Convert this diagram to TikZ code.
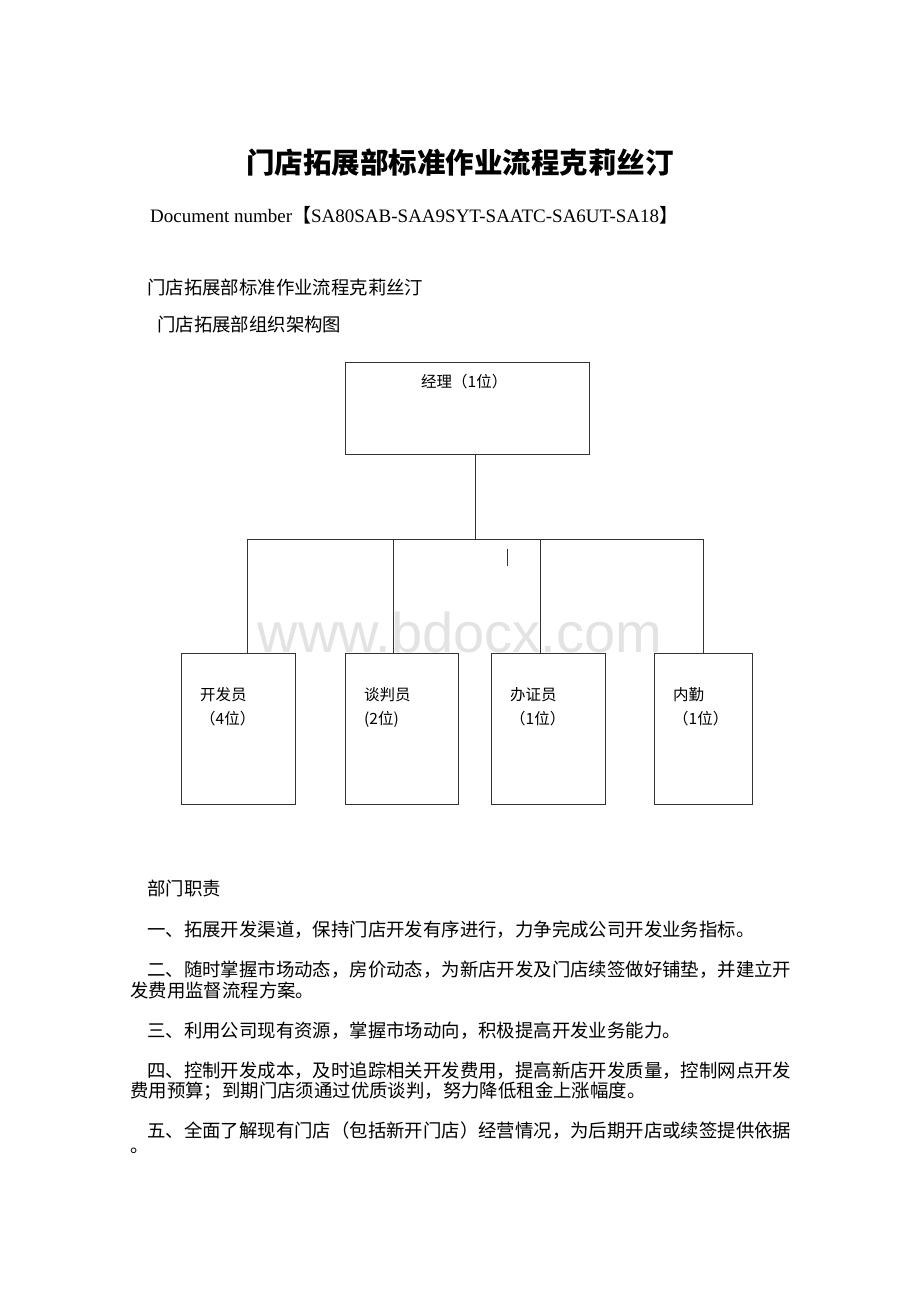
\documentclass[tikz,border=0pt]{standalone}
\usepackage{fontspec}
\setmainfont{Liberation Serif}
\newfontfamily\cjk{Noto Sans CJK SC}
\newfontfamily\wmfont{Liberation Sans}
\usepackage{tikz}

\begin{document}
\begin{tikzpicture}[x=1pt,y=-1pt,
  box/.style={draw=black!80,line width=0.8pt,inner sep=0pt},
  body/.style={anchor=west,inner sep=0pt,font=\cjk\fontsize{18.4}{22}\selectfont},
  lbl/.style={anchor=north west,inner sep=0pt,align=left,font=\cjk\fontsize{15.5}{24}\selectfont},
  wire/.style={draw=black!80,line width=0.8pt}]
  \fill[white] (0,0) rectangle (920,1302);
  \useasboundingbox (0,0) rectangle (920,1302);
  % heading
  \node (title) at (460,163) {\cjk\bfseries\fontsize{28.5}{34}\selectfont 门店拓展部标准作业流程克莉丝汀};
  \node (docno) at (150,215) [anchor=west,inner sep=0pt] {\fontsize{19}{23}\selectfont Document number{\cjk 【}SA80SAB-SAA9SYT-SAATC-SA6UT-SA18{\cjk 】}};
  \node (sub1) at (147,287) [body] {门店拓展部标准作业流程克莉丝汀};
  \node (sub2) at (157,324) [body] {门店拓展部组织架构图};
  % watermark
  \node (wm) at (460,652) [anchor=base,text=black!11] {\wmfont\fontsize{56}{60}\selectfont www.bdocx.com};
  % chart
  \node (mgr) at (467,408) [box,minimum width=244pt,minimum height=92pt] {};
  \node (mgrt) at (421,382) [anchor=west,inner sep=0pt,font=\cjk\fontsize{15.5}{18}\selectfont] {经理（1位）};
  \node (kf) at (238,728.5) [box,minimum width=114pt,minimum height=151pt] {};
  \node (tp) at (401.5,728.5) [box,minimum width=113pt,minimum height=151pt] {};
  \node (bz) at (548,728.5) [box,minimum width=114pt,minimum height=151pt] {};
  \node (nq) at (703,728.5) [box,minimum width=98pt,minimum height=151pt] {};
  \node (kft) at (200,687) [lbl] {开发员\\（4位）};
  \node (tpt) at (364,687) [lbl] {谈判员\\(2位)};
  \node (bzt) at (510,687) [lbl] {办证员\\（1位）};
  \node (nqt) at (673,687) [lbl] {内勤\\（1位）};
  \coordinate (hub) at (475,539);
  \coordinate (j1) at (247,539);
  \coordinate (j2) at (393,539);
  \coordinate (j3) at (540,539);
  \coordinate (j4) at (703,539);
  \draw[wire] (mgr.south -| hub) to (hub);
  \draw[wire] (j1) to (j4);
  \draw[wire] (j1) to (j1 |- kf.north);
  \draw[wire] (j2) to (j2 |- tp.north);
  \draw[wire] (j3) to (j3 |- bz.north);
  \draw[wire] (j4) to (j4 |- nq.north);
  \draw[wire] (507,549) -- (507,566);
  % duties
  \node (p0) at (147,888) [body] {部门职责};
  \node (p1) at (147,930) [body] {一、拓展开发渠道，保持门店开发有序进行，力争完成公司开发业务指标。};
  \node (p2a) at (147,970) [body] {二、随时掌握市场动态，房价动态，为新店开发及门店续签做好铺垫，并建立开};
  \node (p2b) at (130,990) [body] {发费用监督流程方案。};
  \node (p3) at (147,1031) [body] {三、利用公司现有资源，掌握市场动向，积极提高开发业务能力。};
  \node (p4a) at (147,1071) [body] {四、控制开发成本，及时追踪相关开发费用，提高新店开发质量，控制网点开发};
  \node (p4b) at (130,1091) [body] {费用预算；到期门店须通过优质谈判，努力降低租金上涨幅度。};
  \node (p5a) at (147,1131) [body] {五、全面了解现有门店（包括新开门店）经营情况，为后期开店或续签提供依据};
  \node (p5b) at (130,1151) [body] {。};
\end{tikzpicture}
\end{document}
